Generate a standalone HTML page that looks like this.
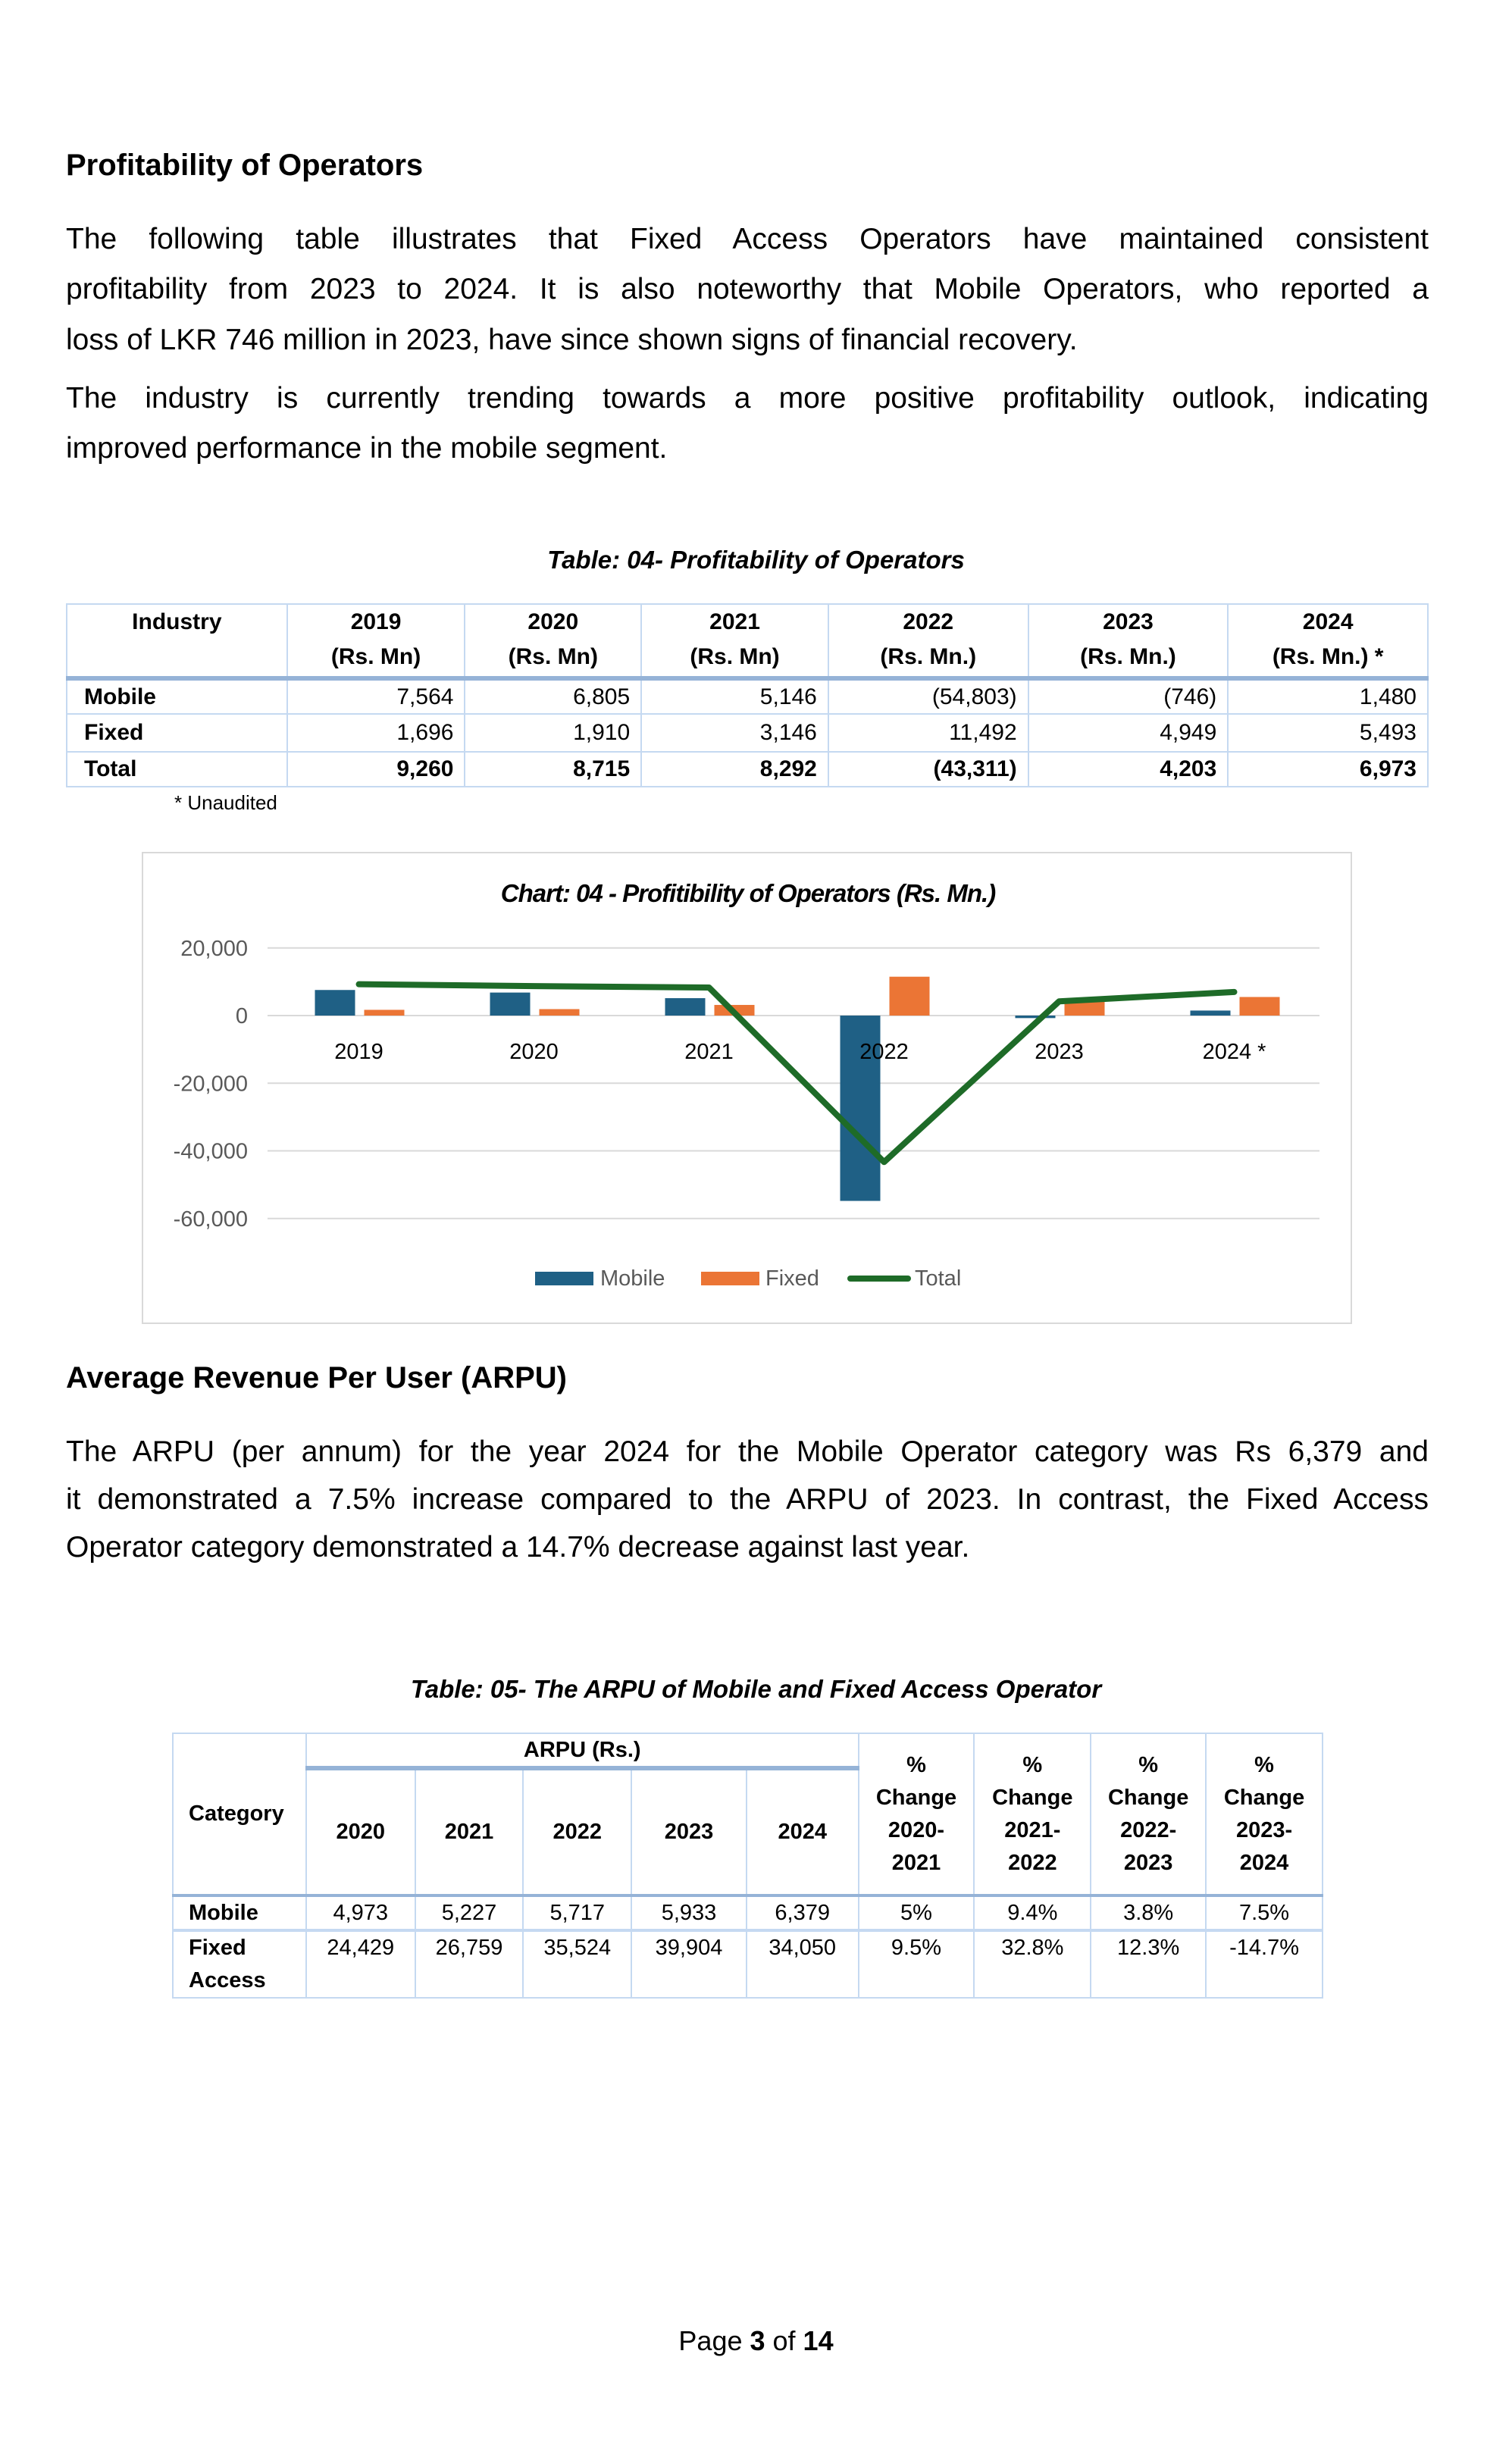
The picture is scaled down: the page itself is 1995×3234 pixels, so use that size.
<!DOCTYPE html>
<html><head><meta charset="utf-8"><style>
body{margin:0;background:#fff;width:1995px;height:3234px;position:relative;font-family:"Liberation Sans",sans-serif;color:#000;overflow:hidden}
.a{position:absolute}
.h{font-weight:bold;font-size:40px;left:87px}
.l{position:absolute;left:87px;width:1798px;font-size:39px;white-space:nowrap}
.j{text-align:justify;text-align-last:justify}
.cap{position:absolute;width:1995px;left:0;text-align:center;font-style:italic;font-weight:bold;font-size:33px}
table{border-collapse:collapse;position:absolute;font-size:30px}
td,th{border:2px solid #c5d9f1;padding:0 14px}
</style></head><body>
<div class="a h" style="top:196px">Profitability of Operators</div>
<div class="l j" style="top:294px">The following table illustrates that Fixed Access Operators have maintained consistent</div>
<div class="l j" style="top:360px">profitability from 2023 to 2024. It is also noteworthy that Mobile Operators, who reported a</div>
<div class="l" style="top:427px">loss of LKR 746 million in 2023, have since shown signs of financial recovery.</div>
<div class="l j" style="top:504px">The industry is currently trending towards a more positive profitability outlook, indicating</div>
<div class="l" style="top:570px">improved performance in the mobile segment.</div>
<div class="cap" style="top:720px">Table: 04- Profitability of Operators</div>

<table style="left:87px;top:796px;width:1798px">
<colgroup><col style="width:291px"><col style="width:235px"><col style="width:233px"><col style="width:247px"><col style="width:264px"><col style="width:264px"><col style="width:264px"></colgroup>
<tr style="height:98px;border-bottom:6px solid #95b3d7;vertical-align:top;text-align:center;font-weight:bold;line-height:46px"><td>Industry</td><td>2019<br>(Rs. Mn)</td><td>2020<br>(Rs. Mn)</td><td>2021<br>(Rs. Mn)</td><td>2022<br>(Rs. Mn.)</td><td>2023<br>(Rs. Mn.)</td><td>2024<br>(Rs. Mn.) *</td></tr>
<tr style="height:47px;text-align:right"><td style="text-align:left;font-weight:bold;padding-left:22px">Mobile</td><td>7,564</td><td>6,805</td><td>5,146</td><td>(54,803)</td><td>(746)</td><td>1,480</td></tr>
<tr style="height:50px;text-align:right"><td style="text-align:left;font-weight:bold;padding-left:22px">Fixed</td><td>1,696</td><td>1,910</td><td>3,146</td><td>11,492</td><td>4,949</td><td>5,493</td></tr>
<tr style="height:46px;text-align:right;font-weight:bold"><td style="text-align:left;padding-left:22px">Total</td><td>9,260</td><td>8,715</td><td>8,292</td><td>(43,311)</td><td>4,203</td><td>6,973</td></tr>
</table>
<div class="a" style="left:230px;top:1044px;font-size:26px">* Unaudited</div>

<svg class="a" style="left:0;top:0" width="1995" height="1800" id="chart">
<rect x="188" y="1125" width="1595" height="621" fill="#fff" stroke="#d9d9d9" stroke-width="2"/>
<text x="987" y="1190" text-anchor="middle" font-style="italic" font-weight="bold" font-size="33" font-family="Liberation Sans" letter-spacing="-1">Chart: 04 - Profitibility of Operators (Rs. Mn.)</text>
<g id="grid"></g><g id="bars"></g><g id="line"></g><g id="labels"></g>
<rect x="706" y="1678" width="77" height="18" fill="#1f6085"/>
<text x="792" y="1696" font-size="29" fill="#595959">Mobile</text>
<rect x="925" y="1678" width="77" height="18" fill="#eb7535"/>
<text x="1010" y="1696" font-size="29" fill="#595959">Fixed</text>
<line x1="1122" y1="1687" x2="1198" y2="1687" stroke="#1e6b28" stroke-width="8" stroke-linecap="round"/>
<text x="1207" y="1696" font-size="29" fill="#595959">Total</text>
</svg>

<div class="a h" style="top:1796px">Average Revenue Per User (ARPU)</div>
<div class="l j" style="top:1894px">The ARPU (per annum) for the year 2024 for the Mobile Operator category was Rs 6,379 and</div>
<div class="l j" style="top:1957px">it demonstrated a 7.5% increase compared to the ARPU of 2023. In contrast, the Fixed Access</div>
<div class="l" style="top:2020px">Operator category demonstrated a 14.7% decrease against last year.</div>
<div class="cap" style="top:2210px">Table: 05- The ARPU of Mobile and Fixed Access Operator</div>

<table style="left:227px;top:2286px;width:1519px;font-size:29px">
<colgroup><col style="width:176px"><col style="width:144px"><col style="width:143px"><col style="width:143px"><col style="width:152px"><col style="width:148px"><col style="width:153px"><col style="width:154px"><col style="width:152px"><col style="width:154px"></colgroup>
<tr style="height:46px;font-weight:bold;text-align:center"><td rowspan="2" style="text-align:left;padding-left:20px">Category</td><td colspan="5" style="border-bottom:6px solid #95b3d7">ARPU (Rs.)</td>
<td rowspan="2" style="line-height:43px">%<br>Change<br>2020-<br>2021</td><td rowspan="2" style="line-height:43px">%<br>Change<br>2021-<br>2022</td><td rowspan="2" style="line-height:43px">%<br>Change<br>2022-<br>2023</td><td rowspan="2" style="line-height:43px">%<br>Change<br>2023-<br>2024</td></tr>
<tr style="height:168px;font-weight:bold;text-align:center;border-bottom:4px solid #95b3d7"><td>2020</td><td>2021</td><td>2022</td><td>2023</td><td>2024</td></tr>
<tr style="height:46px;text-align:center;border-bottom:4px solid #c5d9f1"><td style="text-align:left;font-weight:bold;padding-left:20px">Mobile</td><td>4,973</td><td>5,227</td><td>5,717</td><td>5,933</td><td>6,379</td><td>5%</td><td>9.4%</td><td>3.8%</td><td>7.5%</td></tr>
<tr style="height:87px;text-align:center;vertical-align:top;line-height:43px"><td style="text-align:left;font-weight:bold;padding-left:20px">Fixed<br>Access</td><td>24,429</td><td>26,759</td><td>35,524</td><td>39,904</td><td>34,050</td><td>9.5%</td><td>32.8%</td><td>12.3%</td><td>-14.7%</td></tr>
</table>

<div class="a" style="left:0;width:1995px;top:3068px;text-align:center;font-size:36px">Page <b>3</b> of <b>14</b></div>

<script>
const categories=["2019","2020","2021","2022","2023","2024 *"];
const mobile=[7564,6805,5146,-54803,-746,1480];
const fixed=[1696,1910,3146,11492,4949,5493];
const total=[9260,8715,8292,-43311,4203,6973];
const yTicks=[20000,0,-20000,-40000,-60000];
const tickLabels=["20,000","0","-20,000","-40,000","-60,000"];
const NS="http://www.w3.org/2000/svg";
const X0=358,CW=231,Y0=1340,PPU=89.25/20000;
function xc(i){return X0+CW*(i+0.5);}
function y(v){return Y0-v*PPU;}
function mk(t,a,p){const e=document.createElementNS(NS,t);for(const k in a)e.setAttribute(k,a[k]);document.getElementById(p).appendChild(e);return e;}
yTicks.forEach((v,i)=>{
 const g=mk('line',{x1:353,x2:1741,y1:y(v),y2:y(v),stroke:'#d9d9d9','stroke-width':2},'grid');
 
 
 const t=mk('text',{x:327,y:y(v)+10,'text-anchor':'end','font-size':29,fill:'#595959'},'labels');
 t.textContent=tickLabels[i];
 
 
});
categories.forEach((c,i)=>{
 const m=mobile[i],f=fixed[i];
 const b1=mk('rect',{x:xc(i)-58,width:53,y:Math.min(y(m),Y0),height:Math.max(Math.abs(y(m)-Y0),2),fill:'#1f6085'},'bars');
 
 
 const b2=mk('rect',{x:xc(i)+7,width:53,y:Math.min(y(f),Y0),height:Math.abs(y(f)-Y0),fill:'#eb7535'},'bars');
 
 
 const t=mk('text',{x:xc(i),y:1397,'text-anchor':'middle','font-size':29},'labels');
 t.textContent=c;
 
 
});
const pl=mk('polyline',{points:total.map((v,i)=>xc(i)+','+y(v)).join(' '),fill:'none',stroke:'#1e6b28','stroke-width':8,'stroke-linejoin':'round','stroke-linecap':'round'},'line');


</script>
</body></html>
